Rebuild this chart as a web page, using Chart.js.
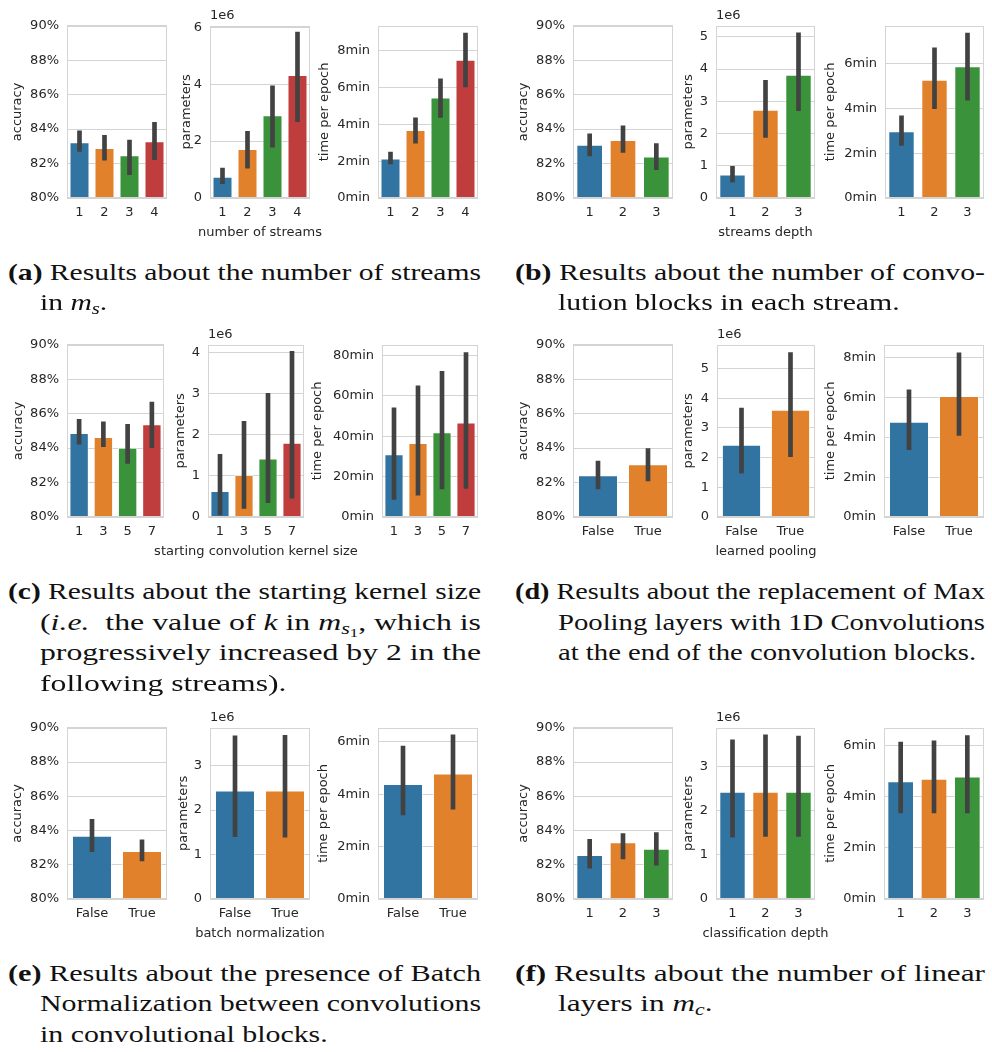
<!DOCTYPE html>
<html>
<head>
<meta charset="utf-8">
<script src="https://cdn.jsdelivr.net/npm/chart.js@4.4.1/dist/chart.umd.min.js"></script>
<style>
  html, body { margin: 0; padding: 0; background: #fff; }
  #page { position: relative; width: 992px; height: 1052px; overflow: hidden; background: #fff; }
  canvas { position: absolute; }
  .xlab { position: absolute; font: 13px "DejaVu Sans"; color: #262626; white-space: nowrap;
          transform: translate(-50%, -50%); line-height: 1; }
  .offset { position: absolute; font: 13px "DejaVu Sans"; color: #262626; white-space: nowrap;
            transform: translateY(-50%); line-height: 1; }
  .cap { position: absolute; font: 24px "Liberation Serif"; color: #111; white-space: nowrap;
         line-height: 30px; height: 30px; transform-origin: 0 50%; }
  .cap sub { font-size: 70%; vertical-align: -0.25em; line-height: 0; }
  .cap sub sub { font-size: 75%; vertical-align: -0.2em; }
</style>
</head>
<body>
<div id="page"></div>
<script>
// Parameter counts are given in millions (the axes carry a "1e6" multiplier).

// ---- (a) number of streams ----
const streamsCats = ['1', '2', '3', '4'];
const streamsAcc = [83.24, 82.90, 82.48, 83.30];
const streamsAccCI = [[82.70, 83.90], [82.20, 83.64], [81.36, 83.37], [82.22, 84.39]];
const streamsParams = [0.75, 1.72, 2.91, 4.32];
const streamsParamsCI = [[0.50, 1.05], [1.05, 2.34], [1.79, 3.94], [2.68, 5.83]];
const streamsTime = [2.15, 3.69, 5.46, 7.50];
const streamsTimeCI = [[1.85, 2.50], [2.98, 4.35], [4.38, 6.47], [6.03, 8.96]];

// ---- (b) streams depth ----
const depthCats = ['1', '2', '3'];
const depthAcc = [83.09, 83.37, 82.41];
const depthAccCI = [[82.44, 83.72], [82.65, 84.19], [81.65, 83.16]];
const depthParams = [0.73, 2.74, 3.82];
const depthParamsCI = [[0.49, 0.98], [1.88, 3.65], [2.71, 5.12]];
const depthTime = [2.98, 5.29, 5.89];
const depthTimeCI = [[2.35, 3.67], [3.99, 6.72], [4.38, 7.38]];

// ---- (c) starting convolution kernel size ----
const kernelCats = ['1', '3', '5', '7'];
const kernelAcc = [84.88, 84.65, 84.02, 85.38];
const kernelAccCI = [[84.23, 85.67], [84.09, 85.52], [83.11, 85.38], [84.02, 86.67]];
const kernelParams = [0.63, 1.02, 1.42, 1.80];
const kernelParamsCI = [[0.05, 1.52], [0.21, 2.32], [0.35, 3.00], [0.46, 4.02]];
const kernelTime = [31.0, 36.6, 41.9, 46.7];
const kernelTimeCI = [[8.7, 54.0], [10.8, 64.9], [13.9, 72.1], [14.1, 81.4]];

// ---- (d) learned pooling ----
const poolCats = ['False', 'True'];
const poolAcc = [82.43, 83.06];
const poolAccCI = [[81.63, 83.25], [82.09, 83.98]];
const poolParams = [2.43, 3.61];
const poolParamsCI = [[1.48, 3.67], [2.03, 5.54]];
const poolTime = [4.79, 6.08];
const poolTimeCI = [[3.39, 6.39], [4.10, 8.26]];

// ---- (e) batch normalization ----
const bnCats = ['False', 'True'];
const bnAcc = [83.69, 82.80];
const bnAccCI = [[82.77, 84.65], [82.22, 83.46]];
const bnParams = [2.44, 2.44];
const bnParamsCI = [[1.40, 3.67], [1.39, 3.68]];
const bnTime = [4.39, 4.79];
const bnTimeCI = [[3.21, 5.84], [3.43, 6.27]];

// ---- (f) classification depth ----
const clsCats = ['1', '2', '3'];
const clsAcc = [82.57, 83.31, 82.94];
const clsAccCI = [[81.80, 83.48], [82.34, 83.82], [81.97, 83.88]];
const clsParams = [2.43, 2.43, 2.43];
const clsParamsCI = [[1.40, 3.61], [1.42, 3.72], [1.42, 3.69]];
const clsTime = [4.61, 4.71, 4.79];
const clsTimeCI = [[3.37, 6.14], [3.37, 6.19], [3.37, 6.40]];

const palette = ['#3274a1', '#e1812c', '#3a923a', '#c03d3e'];
const textColor = '#262626';
const gridColor = '#d4d4d4';
const errColor = '#424242';

Chart.defaults.font.family = '"DejaVu Sans"';
Chart.defaults.font.size = 13;
Chart.defaults.color = textColor;

const page = document.getElementById('page');

const fmtAcc = v => v + '%';
const fmtParams = v => String(v);
const fmtTime = v => v + 'min';

// light frame around each axes box, drawn above the bars like matplotlib spines
const framePlugin = {
  id: 'frame',
  afterDatasetsDraw(chart) {
    const a = chart.chartArea, ctx = chart.ctx;
    ctx.save();
    ctx.strokeStyle = gridColor;
    ctx.lineWidth = 1;
    ctx.strokeRect(Math.round(a.left) + 0.5, Math.round(a.top) + 0.5,
                   Math.round(a.right - a.left) - 1, Math.round(a.bottom - a.top) - 1);
    ctx.restore();
  }
};

// one bar subplot with confidence-interval whiskers
function subplot(box, titleX, cats, means, ci, yTitle, yMin, yMax, step, fmt) {
  const left = Math.round(titleX - 7.8);
  const top = box.t - 12;
  const padL = box.l - left, padT = 12, padR = 6, padB = 30;
  const w = box.r - left + padR, h = box.b - top + padB;
  const cv = document.createElement('canvas');
  cv.width = w; cv.height = h;
  cv.style.left = left + 'px'; cv.style.top = top + 'px';
  cv.style.width = w + 'px'; cv.style.height = h + 'px';
  page.appendChild(cv);
  new Chart(cv, {
    type: 'bar',
    data: {
      labels: cats,
      datasets: [
        { data: ci, backgroundColor: errColor, borderWidth: 0, barThickness: 4,
          grouped: false, order: 0 },
        { data: means, backgroundColor: palette.slice(0, cats.length),
          borderColor: 'rgba(255,255,255,0.55)', borderWidth: 1,
          categoryPercentage: 0.8, barPercentage: 1, grouped: false, order: 1 }
      ]
    },
    options: {
      responsive: false, animation: false, devicePixelRatio: 1,
      layout: { padding: { left: 0, top: padT, right: padR, bottom: 0 } },
      plugins: { legend: { display: false }, tooltip: { enabled: false } },
      scales: {
        x: {
          grid: { display: false, drawTicks: false },
          border: { display: false },
          ticks: { padding: 7, color: textColor },
          afterFit: s => { s.height = padB; }
        },
        y: {
          min: yMin, max: yMax,
          grid: { color: gridColor, lineWidth: 1, drawTicks: false },
          border: { display: false },
          ticks: { stepSize: step, padding: 8, includeBounds: false, callback: fmt, color: textColor },
          title: { display: true, text: yTitle, padding: 0, color: textColor },
          afterFit: s => { s.width = padL; }
        }
      }
    },
    plugins: [framePlugin]
  });
}

function addText(cls, text, x, y) {
  const d = document.createElement('div');
  d.className = cls;
  d.textContent = text;
  d.style.left = x + 'px';
  d.style.top = y + 'px';
  page.appendChild(d);
}

// one figure panel: accuracy, parameters and time per epoch side by side
function panel(t, b, boxes, titleXs, cats, acc, accCI, par, parCI, parMax, parStep,
               tim, timCI, timMax, timStep, xTitle) {
  const bx = boxes.map(([l, r]) => ({ l, r, t, b }));
  subplot(bx[0], titleXs[0], cats, acc, accCI, 'accuracy', 80, 90, 2, fmtAcc);
  subplot(bx[1], titleXs[1], cats, par, parCI, 'parameters', 0, parMax, parStep, fmtParams);
  subplot(bx[2], titleXs[2], cats, tim, timCI, 'time per epoch', 0, timMax, timStep, fmtTime);
  addText('xlab', xTitle, (bx[1].l + bx[1].r) / 2, b + 33);
  addText('offset', '1e6', bx[1].l, t - 8);
}

panel(22, 198, [[67, 167], [210, 310], [378, 478]], [18, 187, 325],
      streamsCats, streamsAcc, streamsAccCI, streamsParams, streamsParamsCI, 6.05, 2,
      streamsTime, streamsTimeCI, 9.35, 2, 'number of streams');
panel(22, 198, [[573, 673], [716, 815], [885, 984]], [524, 689, 831],
      depthCats, depthAcc, depthAccCI, depthParams, depthParamsCI, 5.34, 1,
      depthTime, depthTimeCI, 7.70, 2, 'streams depth');
panel(341, 517, [[67, 164], [208, 304], [382, 478]], [19, 181, 318],
      kernelCats, kernelAcc, kernelAccCI, kernelParams, kernelParamsCI, 4.18, 1,
      kernelTime, kernelTimeCI, 85.2, 20, 'starting convolution kernel size');
panel(341, 517, [[573, 673], [717, 815], [884, 984]], [524, 689, 831],
      poolCats, poolAcc, poolAccCI, poolParams, poolParamsCI, 5.80, 1,
      poolTime, poolTimeCI, 8.66, 2, 'learned pooling');
panel(724, 899, [[67, 167], [210, 310], [378, 478]], [18, 184, 324],
      bnCats, bnAcc, bnAccCI, bnParams, bnParamsCI, 3.85, 1,
      bnTime, bnTimeCI, 6.54, 2, 'batch normalization');
panel(724, 899, [[573, 673], [716, 815], [884, 984]], [524, 689, 831],
      clsCats, clsAcc, clsAccCI, clsParams, clsParamsCI, 3.88, 1,
      clsTime, clsTimeCI, 6.70, 2, 'classification depth');

// sub-figure captions: each line is laid out and stretched to its justified width
const captions = [
  { x: 8, indent: 40, right: 481, ys: [272, 302], lines: [
    '<b>(a)</b> Results about the number of streams',
    'in <i>m</i><sub><i>s</i></sub>.' ] },
  { x: 515, indent: 558, right: 985, ys: [272, 302], lines: [
    '<b>(b)</b> Results about the number of convo-',
    'lution blocks in each stream.' ] },
  { x: 8, indent: 40, right: 481, ys: [591, 622, 652, 683], lines: [
    '<b>(c)</b> Results about the starting kernel size',
    '(<i>i.e.</i>&nbsp; the value of <i>k</i> in <i>m</i><sub><i>s</i><sub>1</sub></sub>, which is',
    'progressively increased by 2 in the',
    'following streams).' ] },
  { x: 515, indent: 558, right: 985, ys: [591, 622, 652], lines: [
    '<b>(d)</b> Results about the replacement of Max',
    'Pooling layers with 1D Convolutions',
    'at the end of the convolution blocks.' ] },
  { x: 8, indent: 40, right: 481, ys: [973, 1003, 1034], lines: [
    '<b>(e)</b> Results about the presence of Batch',
    'Normalization between convolutions',
    'in convolutional blocks.' ] },
  { x: 515, indent: 558, right: 985, ys: [973, 1003], lines: [
    '<b>(f)</b> Results about the number of linear',
    'layers in <i>m</i><sub><i>c</i></sub>.' ] }
];

captions.forEach(c => {
  let lastScale = 1;
  c.lines.forEach((html, i) => {
    const d = document.createElement('div');
    d.className = 'cap';
    d.innerHTML = html;
    const x = i === 0 ? c.x : c.indent;
    d.style.left = x + 'px';
    d.style.top = (c.ys[i] - 15) + 'px';
    page.appendChild(d);
    const natural = d.getBoundingClientRect().width;
    const isLast = i === c.lines.length - 1;
    let s = lastScale;
    if (!isLast) { s = (c.right - x) / natural; lastScale = s; }
    d.style.transform = 'scaleX(' + s + ')';
  });
});
</script>
</body>
</html>
